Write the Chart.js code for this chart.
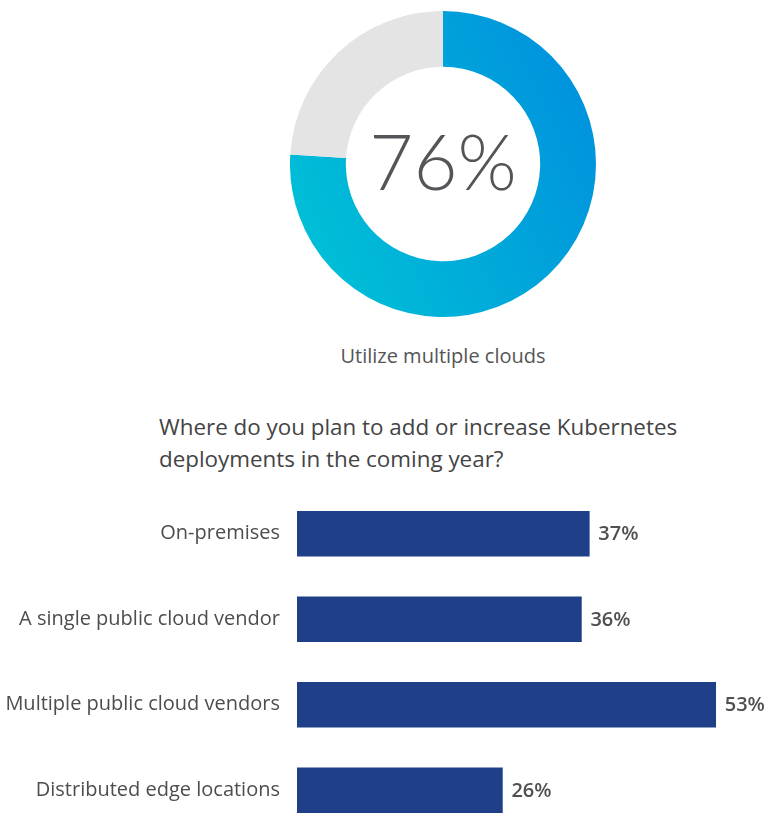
<!DOCTYPE html>
<html>
<head>
<meta charset="utf-8">
<script src="https://cdn.jsdelivr.net/npm/chart.js@4"></script>
<style>
  html, body { margin: 0; padding: 0; background: #fff; overflow: hidden; }
  body { width: 775px; height: 824px; position: relative; font-family: "Open Sans", sans-serif; }
  #donutWrap { position: absolute; left: 290px; top: 11px; width: 306px; height: 306px; }
  #barWrap { position: absolute; left: 0; top: 462px; width: 775px; height: 400px; }
  .caption { position: absolute; left: 0; width: 886px; top: 342px; text-align: center; font-size: 20px; color: #555; }
  .question { position: absolute; left: 159px; top: 411px; font-size: 22.4px; line-height: 32px; color: #444; }
</style>
</head>
<body>
<div id="donutWrap"><canvas id="multiCloudChart"></canvas></div>
<div class="caption">Utilize multiple clouds</div>
<div class="question">Where do you plan to add or increase Kubernetes<br>deployments in the coming year?</div>
<div id="barWrap"><canvas id="deploymentsChart"></canvas></div>
<script>
// doughnut data
const donutLabels = ['Utilize multiple clouds', 'Other'];
const donutValues = [76, 24];

// bar data
const locations = ['On-premises', 'A single public cloud vendor', 'Multiple public cloud vendors', 'Distributed edge locations'];
const shares = [37, 36, 53, 26];

// Draw the big number in the middle of the ring
const centerText = {
  id: 'centerText',
  afterDraw(chart) {
    const { ctx, chartArea } = chart;
    ctx.save();
    ctx.font = '300 76px Lato, "Open Sans", sans-serif';
    ctx.fillStyle = '#555559';
    ctx.textAlign = 'center';
    ctx.textBaseline = 'middle';
    ctx.fillText(donutValues[0] + '%', (chartArea.left + chartArea.right) / 2, (chartArea.top + chartArea.bottom) / 2 + 1);
    ctx.restore();
  }
};

const donutCtx = document.getElementById('multiCloudChart').getContext('2d');
const multiCloudChart = new Chart(donutCtx, {
  type: 'doughnut',
  data: {
    labels: donutLabels,
    datasets: [{
      data: donutValues,
      backgroundColor: (c) => {
        if (c.dataIndex === 1) return '#e4e4e4';
        const area = c.chart.chartArea;
        if (!area) return '#00aad8';
        const midY = (area.top + area.bottom) / 2;
        const g = c.chart.ctx.createLinearGradient(area.left, area.bottom - 40, area.right, midY - 30);
        g.addColorStop(0, '#00c3d6');
        g.addColorStop(1, '#0094dd');
        return g;
      },
      borderWidth: 0
    }]
  },
  options: {
    responsive: true,
    maintainAspectRatio: false,
    animation: false,
    cutout: '63.5%',
    plugins: { legend: { display: false }, tooltip: { enabled: false } }
  },
  plugins: [centerText]
});

// Percent labels at the end of each bar
const barValueLabels = {
  id: 'barValueLabels',
  afterDatasetsDraw(chart) {
    const { ctx } = chart;
    const meta = chart.getDatasetMeta(0);
    ctx.save();
    ctx.font = '600 20px "Open Sans", sans-serif';
    ctx.fillStyle = '#505053';
    ctx.textAlign = 'left';
    ctx.textBaseline = 'middle';
    meta.data.forEach((bar, i) => {
      ctx.fillText(shares[i] + '%', bar.x + 9, bar.y + 1);
    });
    ctx.restore();
  }
};

const barCtx = document.getElementById('deploymentsChart').getContext('2d');
const deploymentsChart = new Chart(barCtx, {
  type: 'bar',
  data: {
    labels: locations,
    datasets: [{
      label: 'Share (%)',
      data: shares,
      backgroundColor: '#1f4088',
      barThickness: 45
    }]
  },
  options: {
    indexAxis: 'y',
    responsive: true,
    maintainAspectRatio: false,
    animation: false,
    layout: { padding: { top: 0, bottom: 0, right: 4 } },
    scales: {
      x: { display: false, min: 0, max: 60 },
      y: {
        grid: { display: false, drawTicks: false },
        border: { display: false },
        ticks: {
          padding: 17,
          color: '#4d4d50',
          font: { family: '"Open Sans", sans-serif', size: 20 }
        },
        afterFit(scale) { scale.width = 297; }
      }
    },
    plugins: { legend: { display: false }, tooltip: { enabled: false } }
  },
  plugins: [barValueLabels]
});
</script>
</body>
</html>
